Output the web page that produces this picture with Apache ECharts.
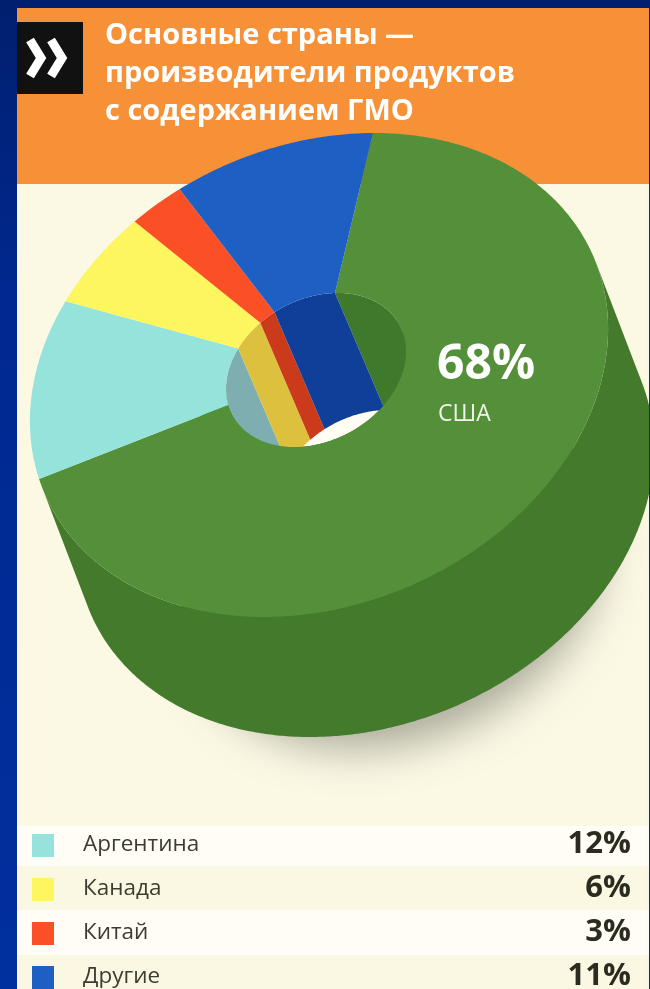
<!DOCTYPE html>
<html>
<head>
<meta charset="utf-8">
<style>html,body{margin:0;padding:0;background:#00288f}#chart{width:650px;height:989px}</style>
<script src="https://cdn.jsdelivr.net/npm/echarts@6/dist/echarts.min.js"></script>
</head>
<body>
<div id="chart"></div>
<script>
// Share of GM crop production by country
const titleLines = ['Основные страны —', 'производители продуктов', 'с содержанием ГМО'];
const categories = ['США', 'Аргентина', 'Канада', 'Китай', 'Другие'];
const shares = [68, 12, 6, 3, 11];
const topColors = ['#548f3a', '#96e3dc', '#fdf65f', '#fb4f26', '#1e5fc4'];
const holeColors = ['#3f7a2c', '#7eaeb0', '#dcc03e', '#cc3a1c', '#103f99'];
const sideColor = '#437a2c';

// Each rim is a circle under a shear: the first slice starts along u, a quarter turn clockwise is v.
const OUTER = { c: [319, 375], u: [54, -242], v: [284, -1], depth: [46, 120] };
const HOLE = { c: [316, 370], u: [19, -77], v: [88, -2.4], depth: [50, 117] };

const total = shares.reduce((a, b) => a + b, 0);
const startFrac = [];
shares.reduce((acc, v, i) => { startFrac[i] = acc / total; return acc + v; }, 0);

function point(rim, frac, lowered) {
  const t = frac * Math.PI * 2, c = Math.cos(t), s = Math.sin(t);
  return [
    rim.c[0] + rim.u[0] * c + rim.v[0] * s + (lowered ? rim.depth[0] : 0),
    rim.c[1] + rim.u[1] * c + rim.v[1] * s + (lowered ? rim.depth[1] : 0)
  ];
}
// Sign of the tangent against the extrusion: tells which part of a rim shows its wall.
function facing(rim, frac) {
  const t = frac * Math.PI * 2, c = Math.cos(t), s = Math.sin(t);
  const tx = -rim.u[0] * s + rim.v[0] * c, ty = -rim.u[1] * s + rim.v[1] * c;
  return tx * rim.depth[1] - ty * rim.depth[0];
}
function fracs(i) {
  const a = startFrac[i], b = a + shares[i] / total, out = [];
  const n = Math.max(2, Math.ceil((b - a) * 720));
  for (let j = 0; j <= n; j++) out.push(a + (b - a) * j / n);
  return out;
}
function polygon(points, fill, extra) {
  return { type: 'polygon', shape: { points }, style: Object.assign({ fill }, extra || {}) };
}
// A slice can show its wall on two separate stretches, so each run gets its own polygon.
function wall(rim, i, sign, fill) {
  const runs = [];
  let run = null;
  fracs(i).forEach(x => {
    if (facing(rim, x) * sign > 0) {
      if (!run) { run = []; runs.push(run); }
      run.push(x);
    } else {
      run = null;
    }
  });
  return {
    type: 'group',
    children: runs.filter(r => r.length > 1).map(r => polygon(
      r.map(x => point(rim, x, false)).concat(r.slice().reverse().map(x => point(rim, x, true))), fill))
  };
}
function ringSlice(params) {
  const i = params.dataIndex, f = fracs(i);
  return polygon(f.map(x => point(OUTER, x)).concat(f.slice().reverse().map(x => point(HOLE, x))), topColors[i]);
}
function fullRim(rim, scale, ox, oy, fill, extra) {
  const pts = [];
  for (let j = 0; j < 180; j++) {
    const p = point(rim, j / 180);
    pts.push([rim.c[0] + (p[0] - rim.c[0]) * scale + ox, rim.c[1] + (p[1] - rim.c[1]) * scale + oy]);
  }
  return polygon(pts, fill, extra);
}

const rows = [
  { top: 826, h: 40, fill: '#fffdf6' },
  { top: 866, h: 44, fill: '#faf8e2' },
  { top: 910, h: 45, fill: '#fffdf6' },
  { top: 955, h: 34, fill: '#faf8e2' }
];
const graphics = [
  { type: 'rect', z: -10, shape: { x: 17, y: 8, width: 633, height: 981 }, style: { fill: '#fbf9e4' } },
  { type: 'rect', z: -9, shape: { x: 17, y: 8, width: 633, height: 176 }, style: { fill: '#f69138' } },
  { type: 'rect', z: 20, shape: { x: 17, y: 22, width: 66, height: 72 }, style: { fill: '#111111' } },
  { type: 'polyline', z: 21, shape: { points: [[30, 40], [41, 58], [30, 76]] }, style: { stroke: '#ffffff', lineWidth: 9, fill: null } },
  { type: 'polyline', z: 21, shape: { points: [[51, 40], [62, 58], [51, 76]] }, style: { stroke: '#ffffff', lineWidth: 9, fill: null } }
];
titleLines.forEach((line, i) => graphics.push({
  type: 'text', z: 21,
  style: { text: line, x: 105, y: 36 + i * 38, textVerticalAlign: 'middle', fill: '#ffffff', font: '700 29px "Open Sans"' }
}));
rows.forEach(r => graphics.push({
  type: 'rect', z: -8, shape: { x: 17, y: r.top, width: 633, height: r.h }, style: { fill: r.fill }
}));
categories.slice(1).forEach((name, i) => {
  const y = 845 + i * 44;
  graphics.push(
    { type: 'rect', z: 21, shape: { x: 32, y: y - 11, width: 22, height: 23 }, style: { fill: topColors[i + 1] } },
    { type: 'text', z: 21, style: { text: name, x: 83, y: y, textVerticalAlign: 'middle', fill: '#3c3c30', font: '400 22.5px "Open Sans"' } },
    { type: 'text', z: 21, style: { text: shares[i + 1] + '%', x: 631, y: y - 1, textAlign: 'right', textVerticalAlign: 'middle', fill: '#2b2b20', font: '700 31px "Open Sans"' } }
  );
});
graphics.push(
  { type: 'text', z: 21, style: { text: shares[0] + '%', x: 437, y: 365, textVerticalAlign: 'middle', fill: '#ffffff', font: '700 48px "Open Sans"' } },
  { type: 'text', z: 21, style: { text: categories[0], x: 438, y: 414, textVerticalAlign: 'middle', fill: '#f2f6e6', font: '400 23px "Open Sans"' } },
  { type: 'rect', z: 22, shape: { x: 649, y: 8, width: 1, height: 981 }, style: { fill: '#0a2a80' } }
);

const layer = (name, z, data, renderItem) => ({
  type: 'custom', name, coordinateSystem: 'none', z, silent: true, animation: false, clip: false, data, renderItem
});

const chart = echarts.init(document.getElementById('chart'), null, { renderer: 'canvas' });
chart.setOption({
  animation: false,
  backgroundColor: {
    type: 'linear', x: 0, y: 0, x2: 0, y2: 1,
    colorStops: [{ offset: 0, color: '#001f6e' }, { offset: 0.3, color: '#00288f' }, { offset: 1, color: '#00309f' }]
  },
  graphic: { elements: graphics },
  series: [
    // The casting shape stays hidden behind the wall; only its blurred offset shadow shows.
    layer('floor shadow', 2, [1], () => fullRim(OUTER, 0.72, 46, 120, sideColor, {
      shadowBlur: 40, shadowColor: 'rgba(95,95,85,0.5)', shadowOffsetX: 30, shadowOffsetY: 80
    })),
    layer('outer wall', 3, shares, p => wall(OUTER, p.dataIndex, -1, sideColor)),
    layer('through hole', 4, [1], () => fullRim(HOLE, 1, 0, 0, '#fffdf4')),
    layer('inner wall', 5, shares, p => wall(HOLE, p.dataIndex, 1, holeColors[p.dataIndex])),
    layer('top face', 6, shares, ringSlice)
  ]
});
</script>
</body>
</html>
